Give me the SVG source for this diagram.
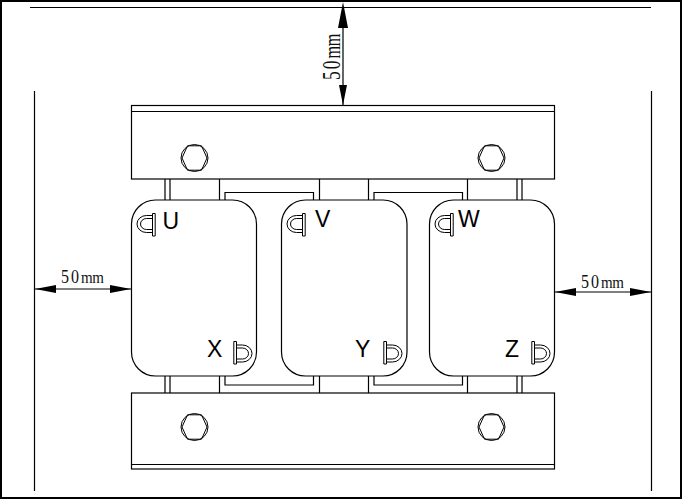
<svg xmlns="http://www.w3.org/2000/svg" xmlns:xlink="http://www.w3.org/1999/xlink" width="683" height="500" viewBox="0 0 683 500">
<style>
.l{fill:none;stroke:#000;stroke-width:1.2}
.b{fill:none;stroke:#000;stroke-width:1}
.t{font-family:"Liberation Sans",Arial,sans-serif;font-size:23px;fill:#000}
.d{font-family:"Liberation Serif","Times New Roman",serif;font-size:15px;fill:#111;letter-spacing:-.5px}
.n{font-size:16px;letter-spacing:2px}
.a{fill:#000;stroke:none}
</style>
<defs>
<g id="bolt" class="b"><circle r="13.5"/><path d="M-7 -12.200H7L12.500 0L7 12.200H-7L-12.500 0Z"/></g>
<g id="termQ" class="b"><path d="M152.500 213.500V236H155.200V213.500Z"/><path d="M152.500 215.500H146.500A9.500 8.500 0 0 0 146.500 232.500H152.500"/><path d="M152.500 218.500H146.500A6 5.500 0 0 0 146.500 229.500H152.500"/></g>
</defs>
<rect width="683" height="500" fill="#fff"/>
<path d="M1 1H681V498H1Z" fill="none" stroke="#000" stroke-width="2"/>
<g id="frame" class="l"><path d="M30 7.500H651M34.500 91V491M651.500 91V491"/></g>
<g id="posts" class="l">
<path d="M165 179V200M170 179V200M219.500 179V200M319.500 179V200M368.500 179V200M467.500 179V200M517 179V200M522 179V200"/>
<path d="M165 376V393M170 376V393M219.500 376V393M319.500 376V393M368.500 376V393M467.500 376V393M517 376V393M522 376V393"/>
<path d="M225 200V192.500H313.500V200M374 200V192.500H462.500V200"/>
<path d="M225 376V385H313.500V376M374 376V385H462.500V376"/>
</g>
<g id="top-bar"><rect class="l" x="131.500" y="105.500" width="423" height="73.500"/><path class="l" d="M131.500 111.500H554.500"/><use xlink:href="#bolt" href="#bolt" x="194.500" y="158"/><use xlink:href="#bolt" href="#bolt" x="491.500" y="158"/></g>
<g id="bottom-bar"><rect class="l" x="131.500" y="393" width="423" height="76"/><path class="l" d="M131.500 464.500H554.500"/><use xlink:href="#bolt" href="#bolt" x="194.500" y="427"/><use xlink:href="#bolt" href="#bolt" x="491.500" y="427"/></g>
<g id="coil-u"><rect class="l" x="131.500" y="200" width="125" height="176" rx="24"/><use xlink:href="#termQ" href="#termQ"/><use xlink:href="#termQ" href="#termQ" transform="rotate(180 194.500 288.750)"/><text class="t" x="162.500" y="229">U</text><text class="t" x="207" y="357">X</text></g>
<g id="coil-v"><rect class="l" x="281.500" y="200" width="125.500" height="176" rx="24"/><use xlink:href="#termQ" href="#termQ" transform="translate(150 0)"/><use xlink:href="#termQ" href="#termQ" transform="translate(150 0) rotate(180 194.500 288.750)"/><text class="t" x="315" y="227">V</text><text class="t" x="355" y="357">Y</text></g>
<g id="coil-w"><rect class="l" x="429.500" y="200" width="125" height="176" rx="24"/><use xlink:href="#termQ" href="#termQ" transform="translate(298 0)"/><use xlink:href="#termQ" href="#termQ" transform="translate(298 0) rotate(180 194.500 288.750)"/><text class="t" x="458" y="227">W</text><text class="t" x="505" y="357">Z</text></g>
<g id="connectors">
<path class="l" d="M343 7V105M35 289H131M555 292H651"/>
<path class="a" d="M343 2L348 28H338ZM343 105L339 85H347ZM35 289L56 285V293ZM131 289L110 285V293ZM555 292L576 288V296ZM651 292L630 288V296Z"/>
</g>
<g id="dim-labels">
<text class="d" transform="translate(61 283) scale(1 1.15)"><tspan class="n">50</tspan>mm</text>
<text class="d" transform="translate(581 288) scale(1 1.15)"><tspan class="n">50</tspan>mm</text>
<text class="d" transform="translate(340 80) rotate(-90) scale(1.08 1.6)"><tspan class="n">50</tspan>mm</text>
</g>
</svg>
